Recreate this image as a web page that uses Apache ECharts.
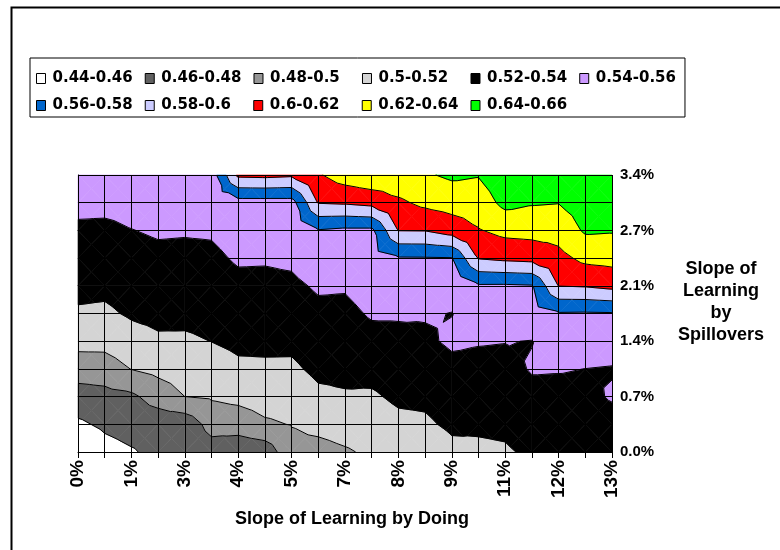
<!DOCTYPE html>
<html>
<head>
<meta charset="utf-8">
<script src="https://cdn.jsdelivr.net/npm/echarts@6/dist/echarts.min.js"></script>
<style>
  html, body { margin: 0; padding: 0; background: #fff; }
  #chart { width: 780px; height: 550px; }
</style>
</head>
<body>
<div id="chart"></div>
<script>
// tick labels (every second grid step is labelled)
const xTickLabels = ['0%', '1%', '3%', '4%', '5%', '7%', '8%', '9%', '11%', '12%', '13%'];
const yTickLabels = ['0.0%', '0.7%', '1.4%', '2.1%', '2.7%', '3.4%'];

// contour bands
const bandNames = ['0.44-0.46', '0.46-0.48', '0.48-0.5', '0.5-0.52', '0.52-0.54', '0.54-0.56',
                   '0.56-0.58', '0.58-0.6', '0.6-0.62', '0.62-0.64', '0.64-0.66'];
const levels = [0.44, 0.46, 0.48, 0.5, 0.52, 0.54, 0.56, 0.58, 0.6, 0.62, 0.64, 0.66];

// surface values: one row per spillover step (bottom first),
// 21 learning-by-doing steps per row
const z0  = [0.442, 0.453, 0.4583, 0.465, 0.463, 0.471, 0.467, 0.468, 0.494, 0.4938, 0.498, 0.503, 0.505, 0.507, 0.515, 0.5167, 0.518, 0.523, 0.526, 0.528, 0.528];
const z1  = [0.4568, 0.4634, 0.4674, 0.4685, 0.467, 0.4874, 0.4886, 0.4973, 0.5007, 0.5051, 0.5081, 0.5103, 0.5153, 0.517, 0.5234, 0.5227, 0.5235, 0.5291, 0.5308, 0.532, 0.534];
const z2  = [0.4713, 0.4738, 0.4765, 0.4884, 0.5, 0.5021, 0.5053, 0.5082, 0.5088, 0.5163, 0.5182, 0.5176, 0.5233, 0.5238, 0.5293, 0.5288, 0.529, 0.5352, 0.5356, 0.536, 0.5415];
const z3  = [0.4895, 0.4903, 0.5005, 0.5055, 0.5088, 0.5111, 0.5164, 0.5171, 0.5169, 0.5239, 0.5245, 0.5257, 0.5293, 0.5293, 0.5353, 0.5348, 0.5346, 0.5413, 0.5409, 0.5399, 0.539];
const z4  = [0.5064, 0.5064, 0.5127, 0.5174, 0.5175, 0.5202, 0.524, 0.5239, 0.5239, 0.5298, 0.5301, 0.5343, 0.5353, 0.537, 0.5428, 0.5412, 0.5405, 0.5396, 0.5496, 0.5488, 0.548];
const z5  = [0.5178, 0.5168, 0.5223, 0.5245, 0.5241, 0.5255, 0.5298, 0.5297, 0.5302, 0.5357, 0.5356, 0.5419, 0.5419, 0.5415, 0.5396, 0.5495, 0.5489, 0.553, 0.5583, 0.5578, 0.5585];
const z6  = [0.5248, 0.5241, 0.5281, 0.5303, 0.5299, 0.531, 0.5356, 0.5355, 0.5364, 0.5423, 0.5417, 0.5475, 0.5501, 0.5495, 0.547, 0.5578, 0.5576, 0.5588, 0.6004, 0.6017, 0.6057];
const z7  = [0.5307, 0.53, 0.5338, 0.536, 0.5356, 0.5364, 0.5421, 0.5418, 0.5433, 0.5506, 0.55, 0.5532, 0.5584, 0.5586, 0.5593, 0.6012, 0.6045, 0.6064, 0.6143, 0.6249, 0.6269];
const z8  = [0.5367, 0.536, 0.5396, 0.542, 0.5415, 0.542, 0.547, 0.547, 0.548, 0.5589, 0.556, 0.556, 0.6005, 0.6008, 0.6085, 0.6188, 0.6257, 0.6271, 0.6277, 0.6425, 0.6415];
const z9  = [0.545, 0.545, 0.546, 0.548, 0.547, 0.547, 0.552, 0.552, 0.552, 0.601, 0.6024, 0.6058, 0.6165, 0.6245, 0.6286, 0.6302, 0.645, 0.6415, 0.6405, 0.648, 0.649];
const z10 = [0.552, 0.552, 0.552, 0.551, 0.548, 0.5497, 0.604, 0.605, 0.603, 0.618, 0.63, 0.636, 0.634, 0.638, 0.643, 0.641, 0.652, 0.651, 0.65, 0.655, 0.656];

const zRows = [z0, z1, z2, z3, z4, z5, z6, z7, z8, z9, z10];
const nx = z0.length - 1;
const ny = zRows.length - 1;

const bandColors = ['#ffffff', '#606060', '#969696', '#d4d4d4', '#000000', '#cc99ff',
                    '#0066cc', '#ccccff', '#ff0000', '#ffff00', '#00ff00'];

// one data item per grid cell
const cells = [];
for (let j = 0; j < ny; j++) {
  for (let i = 0; i < nx; i++) cells.push([i, j]);
}

// the 4 triangles of a cell, split at the centre (mean of corners)
function cellTriangles(i, j) {
  const a = {x: i, y: j, v: zRows[j][i]};
  const b = {x: i + 1, y: j, v: zRows[j][i + 1]};
  const c = {x: i + 1, y: j + 1, v: zRows[j + 1][i + 1]};
  const d = {x: i, y: j + 1, v: zRows[j + 1][i]};
  const m = {x: i + 0.5, y: j + 0.5, v: (a.v + b.v + c.v + d.v) / 4};
  return [[a, b, m], [b, c, m], [c, d, m], [d, a, m]];
}

// keep the part of a polygon where f(v) >= 0
function clip(pts, f) {
  const out = [];
  for (let k = 0; k < pts.length; k++) {
    const p = pts[k], q = pts[(k + 1) % pts.length];
    const fp = f(p.v), fq = f(q.v);
    if (fp >= 0) out.push(p);
    if ((fp >= 0) !== (fq >= 0)) {
      const t = fp / (fp - fq);
      out.push({x: p.x + (q.x - p.x) * t, y: p.y + (q.y - p.y) * t, v: p.v + (q.v - p.v) * t});
    }
  }
  return out;
}

function bandRenderer(k) {
  const lo = levels[k], hi = levels[k + 1];
  return function (params, api) {
    const i = api.value(0), j = api.value(1);
    const children = [];
    cellTriangles(i, j).forEach(tri => {
      let poly = tri;
      if (k > 0) poly = clip(poly, v => v - lo);
      if (poly.length && k < bandNames.length - 1) poly = clip(poly, v => hi - v);
      if (poly.length >= 3) {
        children.push({
          type: 'polygon',
          shape: {points: poly.map(p => api.coord([p.x, p.y]))},
          style: {fill: bandColors[k], stroke: bandColors[k], lineWidth: 0.6}
        });
      }
    });
    return {type: 'group', children: children};
  };
}

function contourRenderer(params, api) {
  const i = api.value(0), j = api.value(1);
  const children = [];
  cellTriangles(i, j).forEach(tri => {
    for (let l = 1; l < levels.length - 1; l++) {
      const t = levels[l];
      const pts = [];
      for (let e = 0; e < 3; e++) {
        const p = tri[e], q = tri[(e + 1) % 3];
        if ((p.v >= t) !== (q.v >= t)) {
          const s = (t - p.v) / (q.v - p.v);
          pts.push(api.coord([p.x + (q.x - p.x) * s, p.y + (q.y - p.y) * s]));
        }
      }
      if (pts.length === 2) {
        children.push({
          type: 'line',
          shape: {x1: pts[0][0], y1: pts[0][1], x2: pts[1][0], y2: pts[1][1]},
          style: {stroke: '#000', lineWidth: 1}
        });
      }
    }
  });
  return {type: 'group', children: children};
}

const series = bandNames.map((name, k) => ({
  name: name,
  type: 'custom',
  coordinateSystem: 'cartesian2d',
  renderItem: bandRenderer(k),
  encode: {x: 0, y: 1},
  itemStyle: {color: bandColors[k]},
  silent: true,
  z: 2,
  data: cells
}));
series.push({
  name: 'contour',
  type: 'custom',
  coordinateSystem: 'cartesian2d',
  renderItem: contourRenderer,
  encode: {x: 0, y: 1},
  silent: true,
  z: 3,
  data: cells
});

const chart = echarts.init(document.getElementById('chart'));
chart.setOption({
  animation: false,
  backgroundColor: '#fff',
  textStyle: {fontFamily: 'Liberation Sans, Arial, sans-serif'},
  graphic: [{
    type: 'rect',
    left: 9, top: 5,
    shape: {width: 800, height: 600},
    style: {fill: 'none', stroke: '#000', lineWidth: 2},
    silent: true
  }, {
    // right-hand axis title
    type: 'text',
    x: 721, y: 302,
    style: {
      text: 'Slope of\nLearning\nby\nSpillovers',
      font: 'bold 18px "Liberation Sans", Arial, sans-serif',
      fill: '#000', lineHeight: 22,
      align: 'center', verticalAlign: 'middle'
    },
    silent: true
  }],
  legend: {
    data: bandNames,
    left: 30, top: 58,
    width: 640,
    orient: 'horizontal',
    icon: 'rect',
    itemWidth: 9, itemHeight: 10,
    itemGap: 12,
    padding: [13, 9, 4, 6],
    borderColor: '#000', borderWidth: 1,
    selectedMode: false,
    itemStyle: {borderColor: '#000', borderWidth: 1},
    textStyle: {
      fontFamily: 'DejaVu Sans', fontWeight: 'bold', fontSize: 15,
      color: '#000', width: 80, lineHeight: 15, padding: [0, 0, 0, 2]
    }
  },
  grid: {left: 78, right: 168, top: 175, bottom: 98},
  xAxis: {
    type: 'value', min: 0, max: nx, interval: 1, z: 10,
    name: 'Slope of Learning by Doing',
    nameLocation: 'middle', nameGap: 58,
    nameTextStyle: {fontSize: 18, fontWeight: 'bold', color: '#000', padding: [0, 0, 0, 14]},
    axisLine: {onZero: false, lineStyle: {color: '#000', width: 1}},
    axisTick: {show: true, length: 6, lineStyle: {color: '#000'}},
    splitLine: {show: true, lineStyle: {color: '#000', width: 1}},
    axisLabel: {
      rotate: 90, margin: 8, fontSize: 19, fontWeight: 'bold', color: '#000',
      formatter: v => (v % 2 === 0 ? xTickLabels[v / 2] : '')
    }
  },
  yAxis: {
    type: 'value', min: 0, max: ny, interval: 1, position: 'right', z: 10,
    axisLine: {show: true, lineStyle: {color: '#000', width: 1}},
    axisTick: {show: true, length: 6, lineStyle: {color: '#000'}},
    splitLine: {show: true, lineStyle: {color: '#000', width: 1}},
    axisLabel: {
      margin: 8, fontSize: 15, fontWeight: 'bold', color: '#000',
      formatter: v => (v % 2 === 0 ? yTickLabels[v / 2] : '')
    }
  },
  series: series
});
</script>
</body>
</html>
